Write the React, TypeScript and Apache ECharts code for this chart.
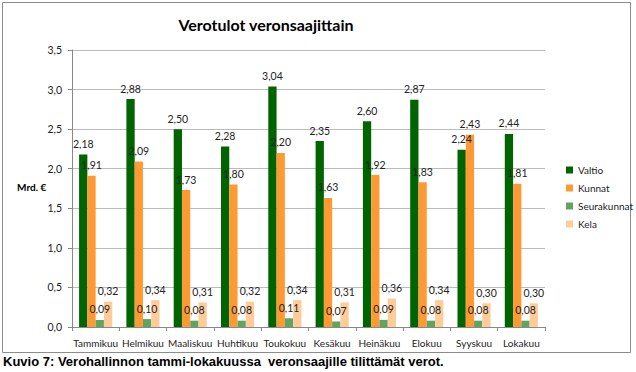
import React, { useEffect, useRef } from "react";
import * as echarts from "echarts";

const months = ["Tammikuu", "Helmikuu", "Maaliskuu", "Huhtikuu", "Toukokuu", "Kesäkuu", "Heinäkuu", "Elokuu", "Syyskuu", "Lokakuu"];
const valtio = [2.18, 2.88, 2.5, 2.28, 3.04, 2.35, 2.6, 2.87, 2.24, 2.44];
const kunnat = [1.91, 2.09, 1.73, 1.8, 2.2, 1.63, 1.92, 1.83, 2.43, 1.81];
const seurakunnat = [0.09, 0.1, 0.08, 0.08, 0.11, 0.07, 0.09, 0.08, 0.08, 0.08];
const kela = [0.32, 0.34, 0.31, 0.32, 0.34, 0.31, 0.36, 0.34, 0.3, 0.3];

const FONT = "Lato";

export default function App() {
  const ref = useRef<HTMLDivElement>(null);
  useEffect(() => {
    if (!ref.current) return;
    const chart = echarts.init(ref.current, null, { renderer: "svg" });
    const lbl = {
      show: true,
      position: "top" as const,
      distance: 5,
      fontFamily: FONT,
      fontSize: 10.5,
      color: "#222",
      formatter: (p: any) => Number(p.value).toFixed(2).replace(".", ","),
    };
    const mk = (name: string, data: number[], color: string) => ({
      name,
      type: "bar" as const,
      data,
      itemStyle: { color },
      label: lbl,
      barGap: "0%",
      barCategoryGap: "30%",
    });
    chart.setOption({
      animation: false,
      backgroundColor: "#fff",
      textStyle: { fontFamily: FONT },
      title: {
        text: "Verotulot veronsaajittain",
        left: 261,
        textAlign: "center",
        top: 11,
        textStyle: { fontFamily: FONT, fontSize: 16, fontWeight: "bold", color: "#000" },
      },
      legend: {
        orient: "vertical",
        left: 561,
        top: 160,
        itemWidth: 7,
        itemHeight: 7,
        itemGap: 8,
        icon: "rect",
        textStyle: { fontFamily: FONT, fontSize: 10, color: "#222" },
        data: ["Valtio", "Kunnat", "Seurakunnat", "Kela"],
      },
      grid: { left: 72, right: 91, top: 50, bottom: 45 },
      xAxis: {
        type: "category",
        data: months,
        axisLine: { lineStyle: { color: "#888" } },
        axisTick: { show: true, length: 4, lineStyle: { color: "#888" } },
        axisLabel: { fontFamily: FONT, fontSize: 10, color: "#222", margin: 11, interval: 0 },
      },
      yAxis: {
        type: "value",
        min: 0,
        max: 3.5,
        interval: 0.5,
        axisLine: { show: true, lineStyle: { color: "#888" } },
        axisTick: { show: true, length: 4, lineStyle: { color: "#888" } },
        axisLabel: {
          fontFamily: FONT,
          fontSize: 10.5,
          color: "#222",
          margin: 10,
          formatter: (v: number) => v.toFixed(1).replace(".", ","),
        },
        splitLine: { lineStyle: { color: "#bbb" } },
      },
      graphic: [
        {
          type: "rect",
          shape: { x: 2.5, y: 2.5, width: 628, height: 350 },
          style: { fill: "none", stroke: "#8c8c8c", lineWidth: 1 },
          silent: true,
        },
        {
          type: "text",
          left: 17,
          top: 182,
          style: { text: "Mrd. €", font: `bold 10px ${FONT}`, fill: "#000" },
        },
        {
          type: "text",
          left: 3,
          top: 355,
          style: {
            text: "Kuvio 7: Verohallinnon tammi-lokakuussa  veronsaajille tilittämät verot.",
            font: "bold 13px 'Liberation Sans'",
            fill: "#000",
          },
        },
      ],
      series: [
        mk("Valtio", valtio, "#006400"),
        mk("Kunnat", kunnat, "#ff9933"),
        mk("Seurakunnat", seurakunnat, "#5fa55f"),
        mk("Kela", kela, "#ffcc99"),
      ],
    });
    return () => chart.dispose();
  }, []);
  return (
    <div
      ref={ref}
      style={{ position: "absolute", left: 0, top: 0, width: 636, height: 372 }}
    />
  );
}
